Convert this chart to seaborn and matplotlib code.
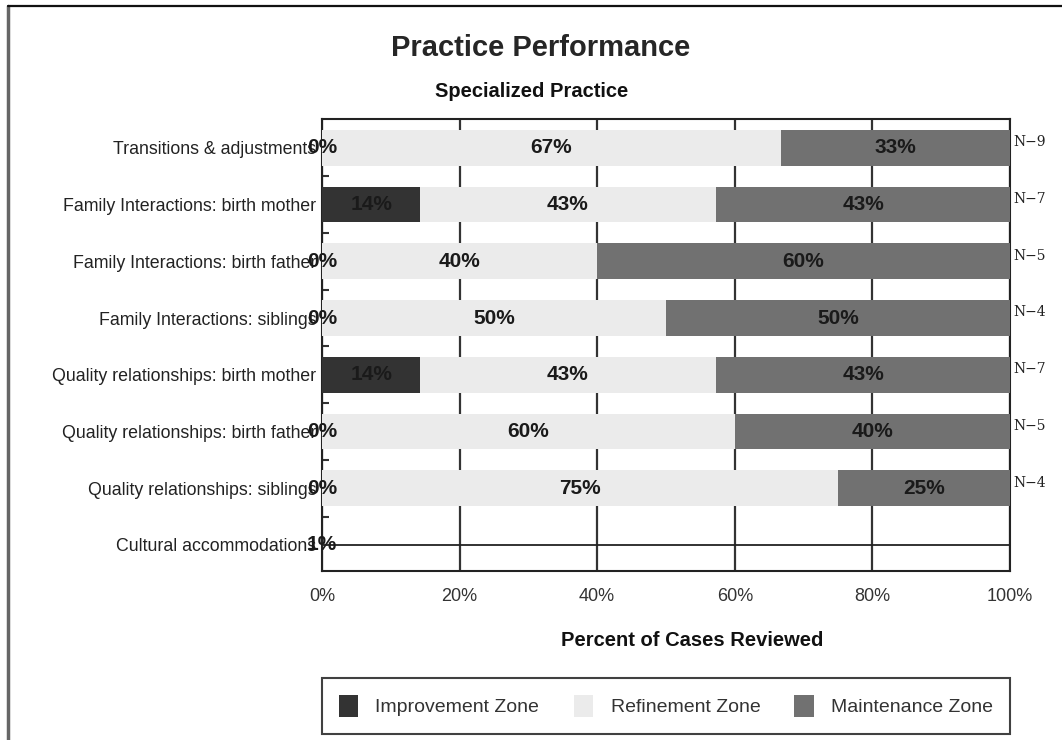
import numpy as np
import pandas as pd
import matplotlib
matplotlib.use('Agg')
import matplotlib.pyplot as plt
from matplotlib.lines import Line2D
from matplotlib.patches import Patch
import seaborn as sns

# --- data ---
categories = [
    'Transitions & adjustments',
    'Family Interactions: birth mother',
    'Family Interactions: birth father',
    'Family Interactions: siblings',
    'Quality relationships: birth mother',
    'Quality relationships: birth father',
    'Quality relationships: siblings',
    'Cultural accommodations',
]
improvement = [0, 14.3, 0, 0, 14.3, 0, 0, 0]
refinement = [66.7, 42.9, 40, 50, 42.9, 60, 75, 0]
maintenance = [33.3, 42.9, 60, 50, 42.9, 40, 25, 0]
improvement_labels = ['0%', '14%', '0%', '0%', '14%', '0%', '0%', '1%']
n_cases = ['N\u22129', 'N\u22127', 'N\u22125', 'N\u22124', 'N\u22127', 'N\u22125', 'N\u22124', '']
zones = ['Improvement Zone', 'Refinement Zone', 'Maintenance Zone']
zone_colors = ['#333333', '#ebebeb', '#717171']
x_ticks = [0, 20, 40, 60, 80, 100]

sns.set_theme(style='white')
SANS = ['Liberation Sans', 'DejaVu Sans']
plt.rcParams['font.family'] = SANS

df = pd.DataFrame({'category': categories, 'imp': improvement,
                   'ref': refinement, 'mai': maintenance})
df['cum1'] = df['imp']
df['cum2'] = df['imp'] + df['ref']
df['cum3'] = df['cum2'] + df['mai']

fig = plt.figure(figsize=(10.62, 7.4), dpi=100)
ax = fig.add_axes([0.3032, 0.2284, 0.6478, 0.6108])

# stacked bars by overdrawing cumulative totals
for col, color in zip(['cum3', 'cum2', 'cum1'], zone_colors[::-1]):
    sns.barplot(data=df, x=col, y='category', orient='h', color=color,
                saturation=1, width=0.63, linewidth=0, ax=ax, zorder=3)

# rows with no cases reviewed show as a flat line
for i, tot in enumerate(df['cum3']):
    if tot == 0:
        ax.axhline(i, color='#222222', lw=1.3, zorder=3)

# segment labels
lab_kw = dict(ha='center', va='center', fontsize=15, fontweight='bold',
              color='#1a1a1a', zorder=6)
for i, row in df.iterrows():
    ax.text(row['imp'] / 2, i, improvement_labels[i], **lab_kw)
    if row['ref'] > 0:
        ax.text(row['cum1'] + row['ref'] / 2, i, f"{round(row['ref'])}%", **lab_kw)
    if row['mai'] > 0:
        ax.text(row['cum2'] + row['mai'] / 2, i, f"{round(row['mai'])}%", **lab_kw)
    ax.text(100.5, i - 0.1, n_cases[i], ha='left', va='center',
            fontsize=10, family=['DejaVu Serif'], color='#222222',
            clip_on=False)

ax.set_xlim(0, 100)
ax.set_ylim(len(categories) - 0.54, -0.51)
ax.set_xticks(x_ticks)
ax.set_xticklabels([f'{t}%' for t in x_ticks], fontsize=13, color='#333333')
ax.set_yticks(range(len(categories)))
ax.set_yticklabels(categories, fontsize=12.8, color='#222222')
ax.set_yticks(np.arange(0.5, len(categories) - 1, 1), minor=True)
ax.tick_params(axis='y', which='major', length=0, pad=4)
ax.tick_params(axis='y', which='minor', direction='in', length=5,
               width=1.5, color='#333333', left=True)
ax.tick_params(axis='x', length=0, pad=12)
ax.set_xlabel('')
ax.set_ylabel('')

ax.set_axisbelow(True)
ax.grid(axis='x', color='#333333', lw=1.6)
ax.grid(axis='y', visible=False)
for s in ax.spines.values():
    s.set_color('#222222')
    s.set_linewidth(1.5)

# titles and axis label
fig.text(0.509, 0.935, 'Practice Performance', ha='center', va='center',
         fontsize=21, fontweight='bold')
fig.text(0.501, 0.877, 'Specialized Practice', ha='center', va='center',
         fontsize=14.5, fontweight='bold', color='#111111')
fig.text(0.652, 0.135, 'Percent of Cases Reviewed', ha='center', va='center',
         fontsize=14.5, fontweight='bold', color='#111111')

# legend
handles = [Patch(facecolor=c, edgecolor='none', label=z)
           for z, c in zip(zones, zone_colors)]
leg = fig.legend(handles=handles, loc='center', ncol=3, mode='expand',
                 bbox_to_anchor=(0.3032, 0.007, 0.6478, 0.078),
                 borderaxespad=0, frameon=True, fancybox=False,
                 handlelength=1.0, handleheight=1.4, handletextpad=0.9,
                 borderpad=0.85, prop={'size': 14})
leg.get_frame().set_edgecolor('#111111')
leg.get_frame().set_linewidth(1.5)
for t in leg.get_texts():
    t.set_color('#333333')

# outer frame (left and top edges)
fig.add_artist(Line2D([0.0075, 0.0075], [0, 0.992], color='#666666', lw=2.5,
                      transform=fig.transFigure))
fig.add_artist(Line2D([0.0075, 1.0], [0.992, 0.992], color='#111111', lw=1.6,
                      transform=fig.transFigure))

fig.savefig('out.png', dpi=100)
